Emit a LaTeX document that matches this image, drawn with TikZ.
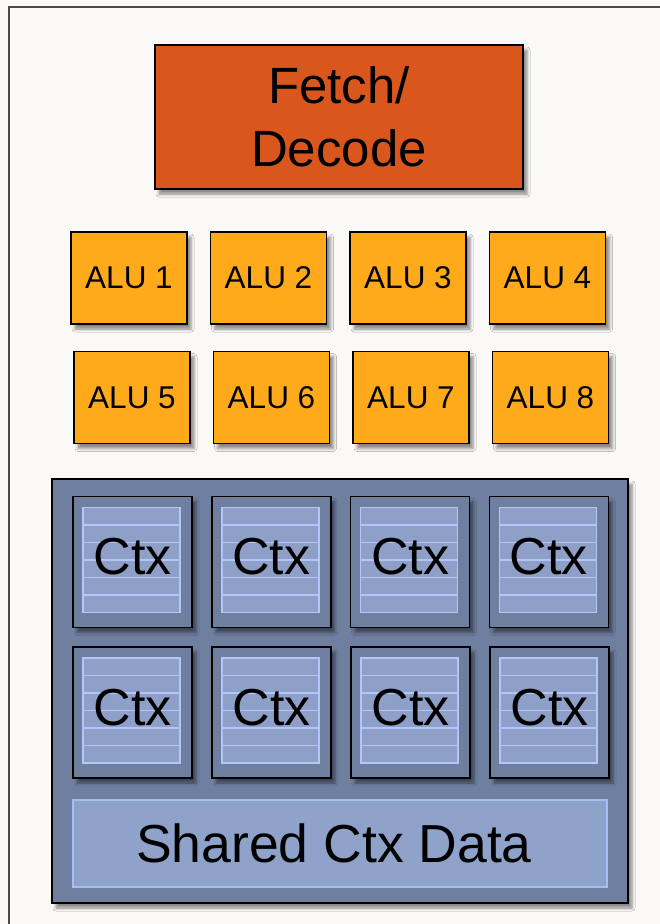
\documentclass[tikz,border=0pt]{standalone}
\usepackage{fontspec}
\setmainfont{Liberation Sans}
\usepackage{tikz}
\usetikzlibrary{positioning,calc,shadows.blur}
\definecolor{paperbg}{HTML}{FAF9F7}
\definecolor{framegray}{HTML}{4A4A4A}
\definecolor{fetchorange}{HTML}{D9571C}
\definecolor{aluorange}{HTML}{FFAA1A}
\definecolor{poolslate}{HTML}{6F7F9F}
\definecolor{ctxpanel}{HTML}{8EA0C8}
\definecolor{ctxline}{HTML}{B2C6FA}
\definecolor{sharedfill}{HTML}{8EA2CA}
\definecolor{sharedline}{HTML}{A9BDF5}
\tikzset{
  boxshadow/.style={blur shadow={shadow xshift=4pt,shadow yshift=-5pt,
    shadow blur radius=3pt,shadow opacity=45}},
  fetchbox/.style={draw=black,line width=1.5pt,fill=fetchorange,align=center,
    minimum width=368pt,minimum height=144pt,
    font=\fontsize{51}{63}\selectfont,boxshadow},
  alubox/.style={draw=black,line width=1.5pt,fill=aluorange,
    minimum width=116pt,minimum height=92pt,
    font=\fontsize{31.5}{37}\selectfont,boxshadow},
  poolbox/.style={draw=black,line width=1.5pt,fill=poolslate,
    minimum width=576pt,minimum height=424pt,boxshadow},
  ctxbox/.style={draw=black,line width=1.5pt,fill=poolslate,
    minimum width=119pt,minimum height=131pt,text depth=11pt,
    font=\fontsize{52}{61}\selectfont,boxshadow,
    path picture={
      \coordinate (ctxnw) at (path picture bounding box.north west);
      \fill[ctxpanel] ($(ctxnw)+(10pt,-11pt)$) rectangle ++(97pt,-105pt);
      \foreach \k in {1,...,5}
        \draw[ctxline,line width=1.5pt] ($(ctxnw)+(10pt,-11pt-17.5pt*\k)$) -- ++(97pt,0pt);
      \draw[ctxline,line width=1.5pt] ($(ctxnw)+(10pt,-11pt)$) rectangle ++(97pt,-105pt);
    }},
  sharedbox/.style={draw=sharedline,line width=1.5pt,fill=sharedfill,
    minimum width=534pt,minimum height=87pt,
    font=\fontsize{53.5}{61}\selectfont}
}

\begin{document}
\begin{tikzpicture}[x=1pt,y=-1pt,node distance=22pt]
  \fill[paperbg] (0,0) rectangle (660,924);
  \useasboundingbox (0,0) rectangle (660,924);
  \draw[framegray,line width=2pt] (9,940) -- (9,7) -- (680,7);

  \node[fetchbox] (fetch) at (339,117) {Fetch/\\Decode};

  \node[alubox] (alu1) at (129,278) {ALU 1};
  \node[alubox,right=of alu1] (alu2) {ALU 2};
  \node[alubox,right=of alu2] (alu3) {ALU 3};
  \node[alubox,right=of alu3] (alu4) {ALU 4};
  \node[alubox] (alu5) at (132,397.5) {ALU 5};
  \node[alubox,right=of alu5] (alu6) {ALU 6};
  \node[alubox,right=of alu6] (alu7) {ALU 7};
  \node[alubox,right=of alu7] (alu8) {ALU 8};

  \node[poolbox] (ctxpool) at (340,691) {};
  \node[ctxbox] (ctx1) at (132.5,562) {Ctx};
  \node[ctxbox,right=18.3pt of ctx1] (ctx2) {Ctx};
  \node[ctxbox,right=18.3pt of ctx2] (ctx3) {Ctx};
  \node[ctxbox,right=18.3pt of ctx3] (ctx4) {Ctx};
  \node[ctxbox] (ctx5) at (132.5,712.5) {Ctx};
  \node[ctxbox,right=18.5pt of ctx5] (ctx6) {Ctx};
  \node[ctxbox,right=18.5pt of ctx6] (ctx7) {Ctx};
  \node[ctxbox,right=18.5pt of ctx7] (ctx8) {Ctx};
  \node[sharedbox] (shared) at (340,843.5) {};
  \node[font=\fontsize{53.5}{61}\selectfont] (sharedtext) at (334,843.5) {Shared Ctx Data};
\end{tikzpicture}
\end{document}
